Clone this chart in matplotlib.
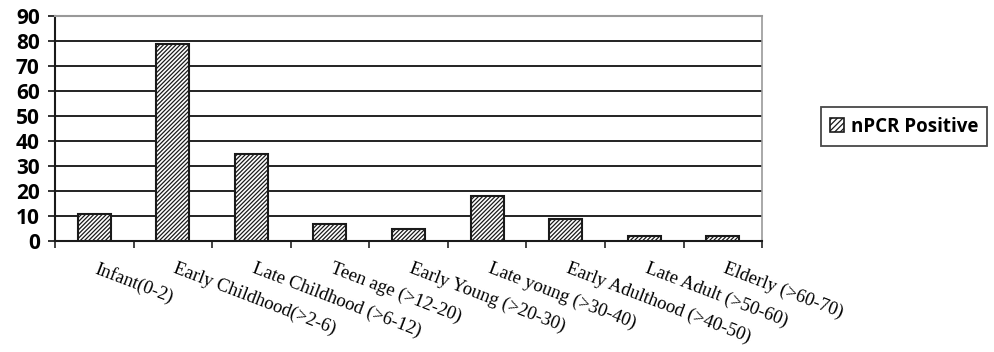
import numpy as np
import matplotlib
matplotlib.use("Agg")
import matplotlib.pyplot as plt
from matplotlib.patches import Patch

# data
categories = ["Infant(0-2)", "Early Childhood(>2-6)", "Late Childhood (>6-12)",
              "Teen age (>12-20)", "Early Young (>20-30)", "Late young (>30-40)",
              "Early Adulthood (>40-50)", "Late Adult (>50-60)", "Elderly (>60-70)"]
positive = [11, 79, 35, 7, 5, 18, 9, 2, 2]
yticks = [0, 10, 20, 30, 40, 50, 60, 70, 80, 90]
series_name = "nPCR Positive"

plt.rcParams['hatch.linewidth'] = 0.9

fig = plt.figure(figsize=(9.95, 3.52), dpi=100)
ax = fig.add_axes([0.0553, 0.315, 0.7106, 0.639])

x = np.arange(len(categories))
ax.bar(x, positive, width=0.42, color="white", edgecolor="#1a1a1a",
       linewidth=1.5, hatch="////////", zorder=3)

ax.set_xlim(-0.5, len(categories) - 0.5)
ax.set_ylim(0, 90)
ax.set_yticks(yticks)
ax.set_yticklabels([str(v) for v in yticks], fontsize=15, fontweight="bold",
                   family=["Open Sans", "DejaVu Sans"])
ax.yaxis.grid(True, color="#222222", linewidth=1.4, zorder=0)
ax.set_axisbelow(True)

# tick marks between categories, labels at category centres
ax.set_xticks(np.arange(len(categories) + 1) - 0.5)
ax.set_xticklabels([])
ax.tick_params(axis="x", length=5, width=1.2, direction="out", color="#222222")
ax.tick_params(axis="y", length=5, width=1.3, direction="out", color="#222222", pad=6)

for i, lab in enumerate(categories):
    ax.text(i + 0.06, -7.5, lab, rotation=-21, rotation_mode="anchor",
            ha="left", va="top", fontsize=13.5, family="Liberation Serif",
            transform=ax.transData, clip_on=False)

ax.spines["left"].set_color("#1a1a1a")
ax.spines["left"].set_linewidth(1.5)
ax.spines["bottom"].set_color("#1a1a1a")
ax.spines["bottom"].set_linewidth(1.5)
ax.spines["top"].set_color("#999999")
ax.spines["top"].set_linewidth(1.5)
ax.spines["right"].set_color("#999999")
ax.spines["right"].set_linewidth(1.2)

handle = Patch(facecolor="white", edgecolor="#1a1a1a", hatch="//////", linewidth=1.2)
leg = fig.legend([handle], [series_name], loc="center", bbox_to_anchor=(0.9085, 0.64),
                 frameon=True, fancybox=False, handlelength=0.75, handleheight=0.75,
                 handletextpad=0.35, borderpad=0.5, borderaxespad=0,
                 prop={"family": ["Open Sans", "DejaVu Sans"], "weight": "bold", "size": 13.5})
leg.get_frame().set_edgecolor("#1a1a1a")
leg.get_frame().set_linewidth(1.3)

fig.savefig("out.png", dpi=100)
